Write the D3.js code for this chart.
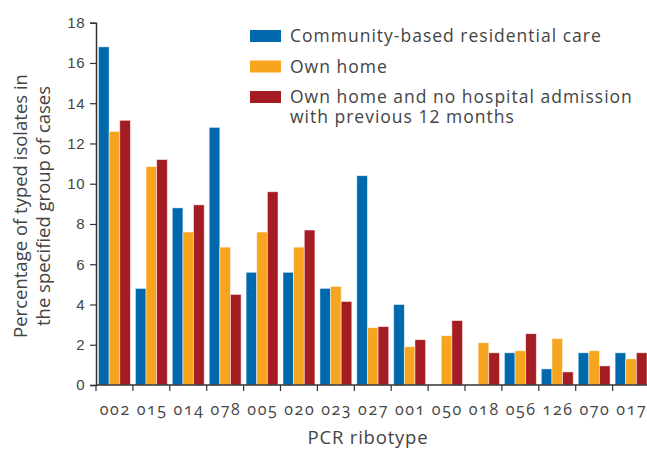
<!DOCTYPE html>
<html>
<head>
<meta charset="utf-8">
<script src="https://cdn.jsdelivr.net/npm/d3@7"></script>
<style>
  body { margin: 0; background: #fff; }
  svg { font-family: "Open Sans", "Fira Sans", sans-serif; }
  .tick text { fill: #444; }
</style>
</head>
<body>
<div id="myGraph"></div>
<script>
// ribotypes along the x axis
var ribotypes = ["002", "015", "014", "078", "005", "020", "023", "027", "001", "050", "018", "056", "126", "070", "017"];
var seriesNames = ["Community-based residential care", "Own home", "Own home and no hospital admission\nwith previous 12 months"];
var residential = [16.8, 4.8, 8.8, 12.8, 5.6, 5.6, 4.8, 10.4, 4.0, 0, 0, 1.6, 0.8, 1.6, 1.6];
var ownHome = [12.6, 10.85, 7.6, 6.85, 7.6, 6.85, 4.9, 2.85, 1.9, 2.45, 2.1, 1.7, 2.3, 1.7, 1.3];
var ownHomeNoAdm = [13.15, 11.2, 8.95, 4.5, 9.6, 7.7, 4.15, 2.9, 2.25, 3.2, 1.6, 2.55, 0.65, 0.95, 1.6];
var yTicks = [0, 2, 4, 6, 8, 10, 12, 14, 16, 18];
var colors = ["#0069ad", "#f7a51e", "#a51d22"];

var width = 647, height = 449;
var x0 = 96, x1 = 649.5, yBottom = 385, yTop = 22.7;

var svg = d3.select("#myGraph").append("svg")
    .attr("width", width)
    .attr("height", height);

var x = d3.scaleBand().domain(ribotypes).range([x0, x1]).paddingInner(0).paddingOuter(0);
var xs = d3.scaleBand().domain([0, 1, 2]).range([0, x.bandwidth()]).paddingInner(0).paddingOuter(0.235);
var y = d3.scaleLinear().domain([0, 18]).range([yBottom, yTop]);

var allSeries = [residential, ownHome, ownHomeNoAdm];

// bars
var groups = svg.selectAll(".grp")
    .data(ribotypes)
    .enter().append("g")
    .attr("class", "grp")
    .attr("transform", function(d) { return "translate(" + x(d) + ",0)"; });

groups.selectAll("rect")
    .data(function(d, i) { return allSeries.map(function(s, k) { return {k: k, v: s[i]}; }); })
    .enter().append("rect")
    .filter(function(d) { return d.v > 0; })
    .attr("x", function(d) { return xs(d.k); })
    .attr("width", xs.bandwidth())
    .attr("y", function(d) { return y(d.v); })
    .attr("height", function(d) { return yBottom - y(d.v); })
    .style("fill", function(d) { return colors[d.k]; })
    .style("stroke", "#fff")
    .style("stroke-opacity", 0.6)
    .style("stroke-width", 0.8);

// y axis
var yAxis = svg.append("g")
    .attr("transform", "translate(" + x0 + ",0)")
    .call(d3.axisLeft(y).tickValues(yTicks).tickSize(6).tickPadding(5));
yAxis.selectAll("text").style("font-size", "15px").style("letter-spacing", "0.5px");

// x axis: ticks at band edges
var xAxis = svg.append("g")
    .attr("transform", "translate(0," + yBottom + ")");
xAxis.append("line")
    .attr("x1", x0).attr("x2", x1)
    .attr("stroke", "#333").attr("stroke-width", 1.5);
xAxis.selectAll(".edge")
    .data(ribotypes)
    .enter().append("line")
    .attr("class", "edge")
    .attr("x1", function(d) { return x(d); })
    .attr("x2", function(d) { return x(d); })
    .attr("y1", 0).attr("y2", 6)
    .attr("stroke", "#333").attr("stroke-width", 1.2);
xAxis.selectAll(".lbl")
    .data(ribotypes)
    .enter().append("text")
    .attr("class", "lbl")
    .attr("x", function(d) { return x(d) + x.bandwidth() / 2 + 0.8; })
    .attr("y", 30)
    .attr("text-anchor", "middle")
    .style("font-size", "16px")
    .style("font-variant-numeric", "oldstyle-nums")
    .style("letter-spacing", "1.6px")
    .style("fill", "#444")
    .text(function(d) { return d; });

yAxis.select(".domain").attr("stroke", "#333").attr("stroke-width", 1.5);
yAxis.selectAll(".tick line").attr("stroke", "#333").attr("stroke-width", 1.2);

// axis titles
svg.append("text")
    .attr("x", 368).attr("y", 444)
    .attr("text-anchor", "middle")
    .style("font-size", "18.5px")
    .style("letter-spacing", "0.8px")
    .style("fill", "#444")
    .text("PCR ribotype");

var yt = svg.append("text")
    .attr("transform", "translate(27,206) rotate(-90)")
    .attr("text-anchor", "middle")
    .style("font-size", "18.5px")
    .style("fill", "#444");
yt.append("tspan").attr("x", 0).attr("dy", 0).text("Percentage of typed isolates in");
yt.append("tspan").attr("x", 0).attr("dy", 23).text("the specified group of cases");

// legend
var legend = svg.selectAll(".legend")
    .data(seriesNames)
    .enter().append("g")
    .attr("class", "legend")
    .attr("transform", function(d, i) { return "translate(250," + (30 + i * 30.5) + ")"; });
legend.append("rect")
    .attr("width", 31).attr("height", 12)
    .style("fill", function(d, i) { return colors[i]; });
legend.append("text")
    .attr("x", 40).attr("y", 12)
    .style("font-size", "17.5px")
    .style("letter-spacing", "1px")
    .style("fill", "#444")
    .each(function(d) {
        var t = d3.select(this);
        d.split("\n").forEach(function(line, j) {
            t.append("tspan").attr("x", 40).attr("dy", j === 0 ? 0 : 20).text(line);
        });
    });
</script>
</body>
</html>
